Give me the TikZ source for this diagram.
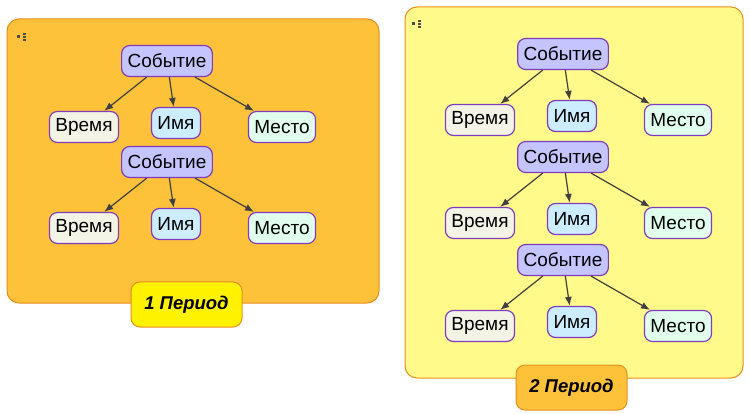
\documentclass[tikz,border=0pt]{standalone}
\usepackage{fontspec}
\setmainfont{Liberation Sans}
\usetikzlibrary{arrows.meta,positioning}
\definecolor{panelone}{RGB}{254,194,58}
\definecolor{paneltwo}{RGB}{255,250,138}
\definecolor{paneledge}{RGB}{232,142,30}
\definecolor{nodeedge}{RGB}{128,60,190}
\definecolor{evfill}{RGB}{196,196,255}
\definecolor{timefill}{RGB}{244,244,230}
\definecolor{namefill}{RGB}{204,236,255}
\definecolor{placefill}{RGB}{224,255,236}
\definecolor{arrowgray}{RGB}{64,64,64}
\tikzset{
  evbox/.style={draw=nodeedge,rounded corners=8pt,line width=1.2pt,
    minimum height=31pt,inner xsep=6pt,inner ysep=2pt,
    font=\fontsize{19}{21}\selectfont},
  evnode/.style={evbox,fill=evfill},
  timenode/.style={evbox,fill=timefill},
  namenode/.style={evbox,fill=namefill},
  placenode/.style={evbox,fill=placefill},
  evflow/.style={-{Latex[length=9pt,width=7pt]},draw=arrowgray,line width=1.2pt},
  panel/.style={draw=paneledge,line width=1pt,rounded corners=12pt},
  period/.style={draw=paneledge,line width=1pt,rounded corners=9pt,
    minimum width=111pt,minimum height=45pt,
    font=\fontsize{18.5}{20}\selectfont\bfseries\itshape},
}
\begin{document}
\begin{tikzpicture}[x=1pt,y=-1pt]
\useasboundingbox (0,0) rectangle (750,414);
% the two period panels
\draw[panel,fill=panelone] (7,19) rectangle (379,303);
\draw[panel,fill=paneltwo] (405,7) rectangle (743,378);
% small list icons in the panel corners
\foreach \ix/\iy in {18/37, 413/24} {
  \fill[black!70] (\ix-1.5,\iy-1.5) rectangle (\ix+1.5,\iy+1.5);
  \foreach \k in {-3,0,3}
    \fill[black!70] (\ix+5,\iy+\k-0.8) rectangle (\ix+8,\iy+\k+0.8);
}
% events with time, name and place
\foreach \n/\x/\y in {a/167/61, b/167/162, c/563/54, d/563/157, e/563/260} {
  \node[evnode] (ev\n) at (\x,\y) {Событие};
  \node[timenode] (time\n) at ({\x-83},{\y+66}) {Время};
  \node[namenode] (name\n) at ({\x+9},{\y+62}) {Имя};
  \node[placenode] (place\n) at ({\x+115},{\y+66}) {Место};
  \draw[evflow] (ev\n) -- (time\n);
  \draw[evflow] (ev\n) -- (name\n);
  \draw[evflow] (ev\n) -- (place\n);
}
% period labels
\node[period,fill=yellow] (perone) at (186.5,304.5) {1 Период};
\node[period,fill=panelone] (pertwo) at (571.5,387.5) {2 Период};
\end{tikzpicture}
\end{document}
